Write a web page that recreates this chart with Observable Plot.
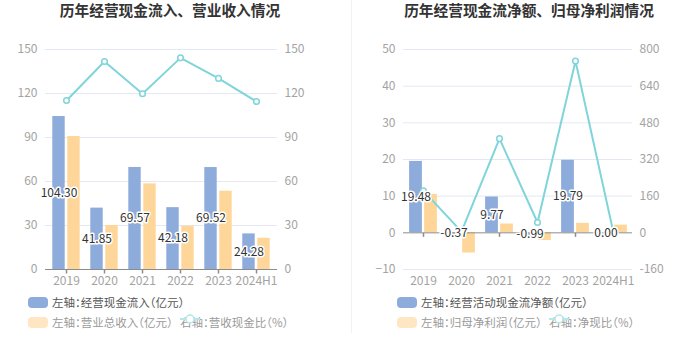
<!DOCTYPE html>
<html><head><meta charset="utf-8">
<script src="https://cdn.jsdelivr.net/npm/d3@7"></script>
<script src="https://cdn.jsdelivr.net/npm/@observablehq/plot@0.6"></script>
<style>
body{margin:0;background:#fff;font-family:"Noto Sans CJK SC","Noto Sans",sans-serif;}
#root{position:relative;width:699px;height:359px;overflow:hidden;background:#fff;}
.panel{position:absolute;top:0;height:359px;}
.panel svg{position:absolute;left:0;top:0;}
.title{position:absolute;top:-1px;line-height:22px;font-size:14.7px;font-weight:bold;color:#333;white-space:nowrap;transform:translateX(-50%);}
.leg{position:absolute;height:16px;line-height:16px;font-size:11.5px;white-space:nowrap;display:flex;align-items:center;font-feature-settings:"halt";}
.sw{width:20px;height:11px;border-radius:4px;margin-right:4px;}
.divider{position:absolute;left:351px;top:0;width:1px;height:333px;background:#f2f2f2;}
</style>
</head><body>
<div id="root">
  <div class="panel" id="pl" style="left:0;width:350px;"></div>
  <div class="panel" id="pr" style="left:350px;width:349px;"></div>
  <div class="divider"></div>
</div>
<script>
const years = ["2019","2020","2021","2022","2023","2024H1"];
// left chart
const cashInflow = [104.30, 41.85, 69.57, 42.18, 69.52, 24.28];
const revenue = [90.7, 30.0, 58.4, 29.5, 53.4, 21.3];
const cashRevenueRatio = [115.2, 141.8, 119.8, 144.3, 130.3, 114.5];
const leftTicks = [0, 30, 60, 90, 120, 150];
// right chart
const netCashFlow = [19.48, -0.37, 9.77, -0.99, 19.79, 0.00];
const netProfit = [10.5, -5.5, 2.4, -2.1, 2.6, 2.1];
const netCashRatio = [183, 5, 411, 45, 750, 0];
const rightLeftTicks = [-10, 0, 10, 20, 30, 40, 50];
const rightRightTicks = [-160, 0, 160, 320, 480, 640, 800];

const titles = ["历年经营现金流入、营业收入情况", "历年经营现金流净额、归母净利润情况"];
const legendLeft = ["左轴：经营现金流入（亿元）", "左轴：营业总收入（亿元）", "右轴：营收现金比（%）"];
const legendRight = ["左轴：经营活动现金流净额（亿元）", "左轴：归母净利润（亿元）", "右轴：净现比（%）"];

const BLUE = "#8eacdb", ORANGE = "#ffd699", TEAL = "#7fd5da";
const tickSymbol = {draw(ctx){ ctx.moveTo(0,0); ctx.lineTo(0,4); }};
const FONT = '"Noto Sans CJK SC","Noto Sans",sans-serif';

function chart({width, marginLeft, marginRight, domain, ticks, rightTicks, bars1, bars2, line, inset}) {
  const k = rightTicks[rightTicks.length-1] / ticks[ticks.length-1];
  return Plot.plot({
    width, height: 290,
    marginLeft, marginRight, marginTop: 49, marginBottom: 21,
    style: {fontFamily: FONT, fontSize: "12px", background: "transparent", overflow: "visible"},
    x: {domain: years, padding: 0, label: null},
    y: {domain, label: null},
    marks: [
      Plot.gridY(ticks.filter(t => t !== 0), {stroke: "#e4e8f2", strokeOpacity: 1}),
      Plot.axisY({anchor: "left", ticks, tickSize: 0, tickPadding: 8, color: "#a3a3a3", label: null}),
      Plot.axisY({anchor: "right", ticks, tickSize: 0, tickPadding: 7, color: "#a3a3a3", label: null,
                  tickFormat: d => String(Math.round(d * k))}),
      Plot.axisX({anchor: "bottom", tickSize: 0, tickPadding: 7, color: "#a3a3a3", label: null}),
      Plot.barY(years, {x: d => d, y: (d, i) => bars1[i], fill: BLUE, insetLeft: inset, insetRight: inset, dx: -7.5}),
      Plot.barY(years, {x: d => d, y: (d, i) => bars2[i], fill: ORANGE, insetLeft: inset, insetRight: inset, dx: 7.5}),
      Plot.ruleY([0], {stroke: "#8c8c8c"}),
      Plot.dot(years, {x: d => d, y: 0, symbol: tickSymbol, stroke: "#8c8c8c", fill: "none"}),
      Plot.line(years, {x: d => d, y: (d, i) => line[i] / k, stroke: TEAL, strokeWidth: 2}),
      Plot.dot(years, {x: d => d, y: (d, i) => line[i] / k, r: 2.8, fill: "white", stroke: TEAL, strokeWidth: 1.5}),
      Plot.text(years, {x: d => d, y: (d, i) => bars1[i] / 2, text: (d, i) => bars1[i].toFixed(2),
                        dx: -7.5, fill: "#333", stroke: "white", strokeWidth: 3, fontSize: 12})
    ]
  });
}

const left = chart({width: 350, marginLeft: 45, marginRight: 73, domain: [0, 150], ticks: leftTicks,
  rightTicks: leftTicks, bars1: cashInflow, bars2: revenue, line: cashRevenueRatio, inset: 12.8});
document.getElementById("pl").appendChild(left);

const right = chart({width: 349, marginLeft: 53, marginRight: 67, domain: [-10, 50], ticks: rightLeftTicks,
  rightTicks: rightRightTicks, bars1: netCashFlow, bars2: netProfit, line: netCashRatio, inset: 12.6});
document.getElementById("pr").appendChild(right);

function addTitle(panel, text, cx) {
  const t = document.createElement("div");
  t.className = "title"; t.textContent = text; t.style.left = cx + "px";
  panel.appendChild(t);
}
const pl = document.getElementById("pl"), pr = document.getElementById("pr");
addTitle(pl, titles[0], 170);
addTitle(pr, titles[1], 179);

function legendItem(panel, x, y, kind, text, faded) {
  const d = document.createElement("div");
  d.className = "leg"; d.style.left = x + "px"; d.style.top = (y - 8) + "px";
  d.style.color = faded ? "#9a9a9a" : "#555";
  if (kind === "line") {
    d.innerHTML = '<svg width="20" height="10" style="margin-right:4px"><line x1="0" y1="5" x2="20" y2="5" stroke="#b5e6ea" stroke-width="2"/><circle cx="10" cy="5" r="4" fill="white" stroke="#b5e6ea" stroke-width="1.5"/></svg>';
  } else {
    const s = document.createElement("div"); s.className = "sw"; s.style.background = kind; d.appendChild(s);
  }
  d.appendChild(document.createTextNode(text));
  panel.appendChild(d);
}
legendItem(pl, 28, 302, BLUE, legendLeft[0], false);
legendItem(pl, 28, 322, "#ffe6c2", legendLeft[1], true);
legendItem(pl, 180, 322, "line", legendLeft[2], true);
legendItem(pr, 47, 302, BLUE, legendRight[0], false);
legendItem(pr, 47, 322, "#ffe6c2", legendRight[1], true);
legendItem(pr, 199, 322, "line", legendRight[2], true);
</script>
</body></html>
